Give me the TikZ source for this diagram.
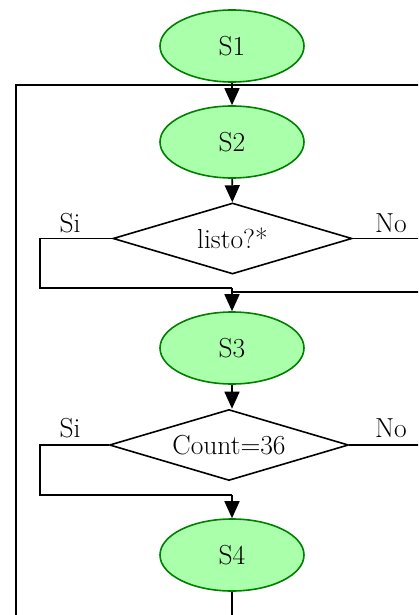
\documentclass[tikz,border=0pt]{standalone}
\usetikzlibrary{shapes.geometric,arrows.meta}
\definecolor{stepfill}{RGB}{170,255,170}
\definecolor{stepedge}{RGB}{0,128,0}
\begin{document}
\begin{tikzpicture}[x=1pt,y=-1pt,
  every node/.style={font=\fontsize{27.5}{32}\selectfont},
  stepnode/.style={ellipse, draw=stepedge, fill=stepfill, line width=1.6pt,
    minimum width=144pt, minimum height=72pt, inner sep=0pt},
  choice/.style={diamond, draw=black, line width=1.6pt, aspect=3.37,
    minimum width=239pt, minimum height=71pt, inner sep=0pt},
  wire/.style={draw=black, line width=1.6pt},
  flow/.style={wire, -{Triangle[length=17pt,width=15pt]}},
  lbl/.style={anchor=base, inner sep=0pt}]
\clip (0,0) rectangle (418,615);

% steps and decisions
\node[stepnode] (s1) at (232,46) {S1};
\node[stepnode] (s2) at (232,142) {S2};
\node[choice]   (d1) at (232.5,238.5) {listo?*};
\node[stepnode] (s3) at (232,348) {S3};
\node[choice]   (d2) at (229,445) {Count=36};
\node[stepnode] (s4) at (232,555) {S4};

% branch labels
\node[lbl] (si1) at (70,232) {Si};
\node[lbl] (no1) at (391,232) {No};
\node[lbl] (si2) at (70,437) {Si};
\node[lbl] (no2) at (391,437) {No};

% outer return loop
\coordinate (topR) at (430,85);
\coordinate (topL) at (16,85);
\coordinate (botL) at (16,630);
\draw[wire] (topR) -- (topL) -- (botL);

% main sequence
\draw[flow] (s1) -- (s2);
\draw[flow] (s2) -- (d1);

% first decision
\coordinate (j1) at (232,288);
\coordinate (j1r) at (232,292);
\coordinate (e1) at (430,238.5);
\coordinate (r1) at (430,292);
\draw[wire] (d1.west) -- (40,238.5) -- (40,288) -- (j1);
\draw[wire] (d1.east) -- (e1);
\draw[wire] (r1) -- (j1r) -- (j1);
\draw[flow] (j1) -- (s3);

% second decision
\draw[flow] (s3) -- (s3 |- d2.north);
\coordinate (j2) at (232,495);
\coordinate (e2) at (430,445);
\draw[wire] (d2.west) -- (40,445) -- (40,495) -- (j2);
\draw[wire] (d2.east) -- (e2);
\draw[flow] (j2) -- (s4);

% exit
\draw[wire] (s4) -- (s4 |- botL);
\end{tikzpicture}
\end{document}
